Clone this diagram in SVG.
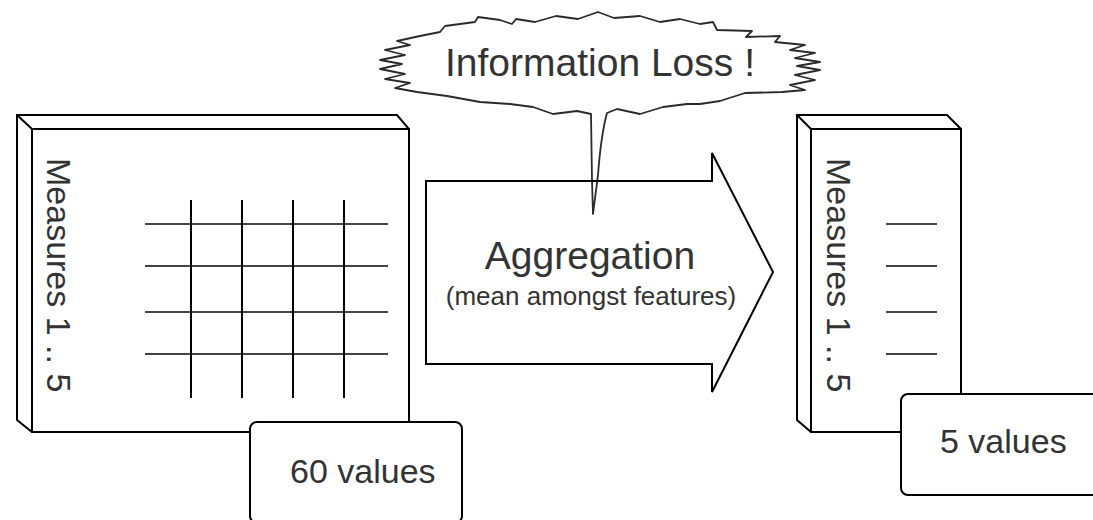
<svg xmlns="http://www.w3.org/2000/svg" width="1093" height="520" viewBox="0 0 1093 520">
<style>
.edge{fill:none;stroke:#000;stroke-width:2;stroke-linejoin:miter}
.face{fill:#fff;stroke:#000;stroke-width:2}
.hl{stroke:#444;stroke-width:2.2}
.vl{stroke:#000;stroke-width:2}
.t{font-family:"Liberation Sans",Arial,sans-serif;fill:#333}
.burst{fill:#fff;stroke:#2a2a2a;stroke-width:1.8;stroke-linejoin:round}
</style>
<rect width="1093" height="520" fill="#fff"/>
<g id="source-cube">
<polygon class="face" points="17,115 397,115 409,129 409,432 32,432 17,420"/>
<path class="edge" d="M17,115 L32,129"/>
<rect class="face" x="32" y="129" width="377" height="303"/>
<text class="t" font-size="34" transform="translate(47,158) rotate(90)">Measures 1 .. 5</text>
<g>
<line class="hl" x1="145" y1="224" x2="388" y2="224"/>
<line class="hl" x1="145" y1="266" x2="388" y2="266"/>
<line class="hl" x1="145" y1="312" x2="388" y2="312"/>
<line class="hl" x1="145" y1="354" x2="388" y2="354"/>
<line class="vl" x1="191" y1="200" x2="191" y2="398"/>
<line class="vl" x1="242" y1="200" x2="242" y2="398"/>
<line class="vl" x1="293" y1="200" x2="293" y2="398"/>
<line class="vl" x1="344" y1="200" x2="344" y2="398"/>
</g>
</g>
<g id="source-label">
<rect class="face" x="250" y="422" width="212" height="101" rx="7"/>
<text class="t" font-size="34" x="290" y="483">60 values</text>
</g>
<g id="target-cube">
<polygon class="face" points="797,115 947,115 961,129 961,432 811,432 797,420"/>
<path class="edge" d="M797,115 L811,129"/>
<rect class="face" x="811" y="129" width="150" height="303"/>
<text class="t" font-size="34" transform="translate(827,158) rotate(90)">Measures 1 .. 5</text>
<line class="hl" x1="886" y1="224" x2="937" y2="224"/>
<line class="hl" x1="886" y1="266" x2="937" y2="266"/>
<line class="hl" x1="886" y1="312" x2="937" y2="312"/>
<line class="hl" x1="886" y1="354" x2="937" y2="354"/>
</g>
<g id="target-label">
<rect class="face" x="901" y="394" width="220" height="101" rx="7"/>
<text class="t" font-size="34" x="940" y="453">5 values</text>
</g>
<g id="callout">
<path class="burst" d="M420,36 L440,32 L445,26 L475,22 L478,17 L500,20 L512,24 L516,19 L535,22 L556,16 L578,19 L598,12 L614,18 L640,16 L660,22 L680,19 L700,24 L713,22 L717,30 L752,31 L746,37 L780,36 L775,42 L805,45 L790,50 L815,53 L795,58 L820,62 L797,66 L820,70 L795,75 L815,80 L790,85 L805,90 L782,92 L745,93 L720,101 L700,104 L687,104 L663,107 L640,114 L617,109 L607,113 Q601,135 598,175 L593,214 L592,180 L591,114 L577,111 L553,114 L533,107 L510,104 L480,102 L447,96 L417,92 L395,88 L410,83 L385,79 L405,74 L380,69 L402,64 L380,60 L405,55 L385,50 L410,45 L397,41 Z"/>
<text class="t" font-size="39" x="600" y="76" text-anchor="middle">Information Loss !</text>
</g>
<g id="aggregation-arrow">
<polygon class="edge" points="426,181 712,181 712,153 773,272 712,392 712,364 426,364"/>
<text class="t" font-size="39" x="590" y="269" text-anchor="middle">Aggregation</text>
<text class="t" font-size="26" x="591" y="305" text-anchor="middle">(mean amongst features)</text>
</g>
<g id="connectors"/>
</svg>
